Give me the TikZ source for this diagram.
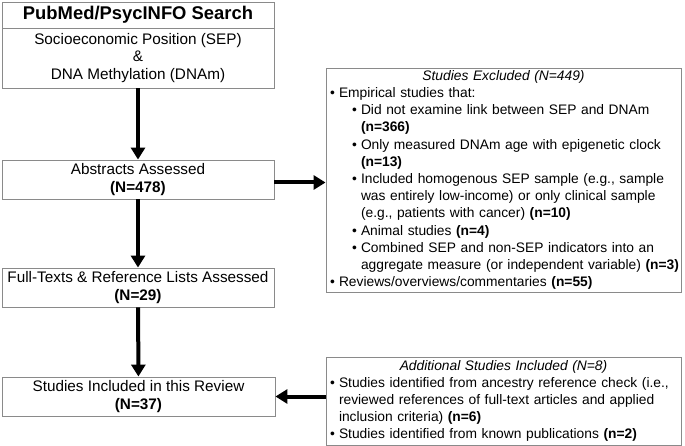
\documentclass[tikz,border=0pt]{standalone}
\usepackage{fontspec}
\setmainfont{Liberation Sans}
\usetikzlibrary{arrows.meta}
\definecolor{boxgray}{HTML}{8A8A8A}
\newcommand\bulA{\par\leftskip=0pt\noindent\hangindent=9pt\hangafter=1\makebox[9pt][l]{•}}
\newcommand\bulB{\par\leftskip=22pt\noindent\hangindent=9pt\hangafter=1\makebox[9pt][l]{•}}
\newcommand\oneline[1]{\mbox{#1}}
\newcommand\nohyph{\hyphenpenalty=10000\exhyphenpenalty=10000\relax}
\begin{document}
\begin{tikzpicture}[x=1pt,y=-1pt,
  box/.style={draw=boxgray, line width=0.9pt, inner sep=0pt, align=center,
    font=\fontsize{15.3}{17.5}\selectfont},
  listbox/.style={draw=boxgray, line width=0.9pt, inner xsep=4pt, inner ysep=0pt,
    font=\fontsize{13.8}{17.2}\selectfont, align=left, text width=347pt},
  flow/.style={line width=4pt, -{Triangle[width=14pt,length=12pt]}}]
\useasboundingbox (0,0) rectangle (685,446);
\node[box, minimum width=272pt, minimum height=26pt,
  font=\bfseries\fontsize{18.4}{20}\selectfont] (title) at (138,15) {PubMed/PsycINFO Search};
\node[box, minimum width=272pt, minimum height=60pt] (search) at (138,58)
  {Socioeconomic Position (SEP)\\\&\\DNA Methylation (DNAm)};
\node[box, minimum width=272pt, minimum height=39pt] (abstracts) at (138,179.5)
  {Abstracts Assessed\\\textbf{(N=478)}};
\node[box, minimum width=272pt, minimum height=39pt] (fulltext) at (138,287.5)
  {Full-Texts \& Reference Lists Assessed\\\textbf{(N=29)}};
\node[box, minimum width=273pt, minimum height=39pt] (included) at (138.5,396.5)
  {Studies Included in this Review\\\textbf{(N=37)}};
\node[listbox, minimum height=224pt] (excluded) at (503.5,180) {\nohyph
  {\centering\textit{Studies Excluded (N=449)}\par}
  \bulA \oneline{Empirical studies that:}
  \bulB \oneline{Did not examine link between SEP and DNAm}\newline\oneline{\textbf{(n=366)}}
  \bulB \oneline{Only measured DNAm age with epigenetic clock}\newline\oneline{\textbf{(n=13)}}
  \bulB \oneline{Included homogenous SEP sample (e.g., sample}\newline\oneline{was entirely low-income) or only clinical sample}\newline\oneline{(e.g., patients with cancer) \textbf{(n=10)}}
  \bulB \oneline{Animal studies \textbf{(n=4)}}
  \bulB \oneline{Combined SEP and non-SEP indicators into an}\newline\oneline{aggregate measure (or independent variable) \textbf{(n=3)}}
  \bulA \oneline{Reviews/overviews/commentaries \textbf{(n=55)}}\par};
\node[listbox, minimum height=88pt] (additional) at (503.5,401) {\nohyph
  {\centering\textit{Additional Studies Included (N=8)}\par}
  \bulA \oneline{Studies identified from ancestry reference check (i.e.,}\newline\oneline{reviewed references of full-text articles and applied}\newline\oneline{inclusion criteria) \textbf{(n=6)}}
  \bulA \oneline{Studies identified from known publications \textbf{(n=2)}}\par};
\coordinate (exin) at (excluded.west |- 0,182.5);
\draw[flow] (search) -- (abstracts);
\draw[flow] (abstracts) -- (fulltext);
\draw[flow] (fulltext) -- (included);
\draw[flow] (abstracts.east |- exin) -- (exin);
\draw[flow] (additional.west |- included.east) -- (included.east);
\end{tikzpicture}
\end{document}
